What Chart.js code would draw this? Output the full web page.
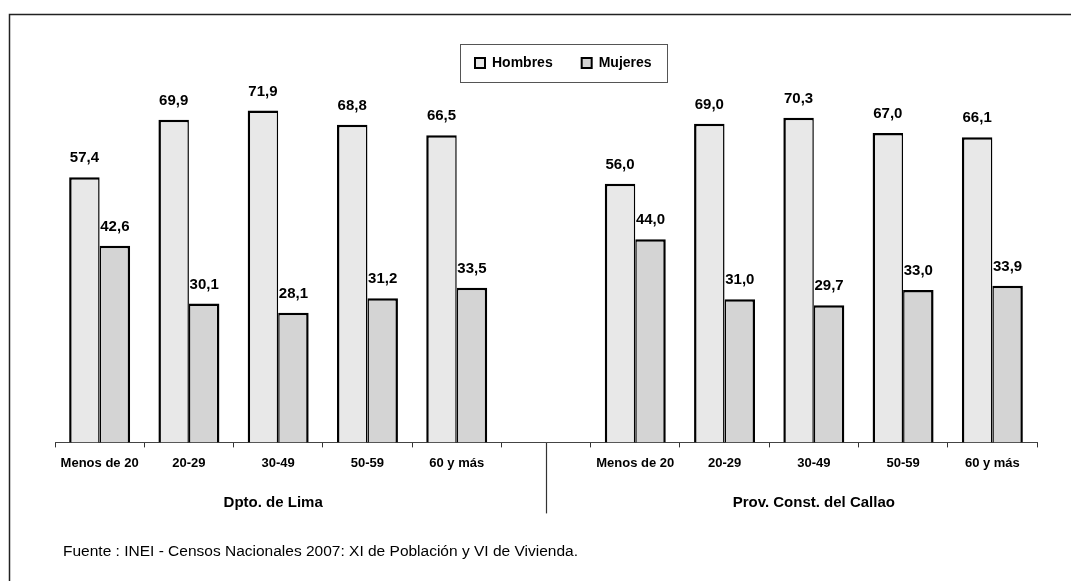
<!DOCTYPE html>
<html>
<head>
<meta charset="utf-8">
<script src="https://cdn.jsdelivr.net/npm/chart.js@4.4.1/dist/chart.umd.min.js"></script>
<style>
    html, body { margin: 0; padding: 0; background: #fff; }
    canvas { display: block; }
</style>
</head>
<body>
<canvas id="grafico" width="1071" height="581"></canvas>
<script>
// datos (el hueco central separa los dos ámbitos)
const categorias = ['Menos de 20', '20-29', '30-49', '50-59', '60 y más', '', 'Menos de 20', '20-29', '30-49', '50-59', '60 y más'];
const hombres = [57.4, 69.9, 71.9, 68.8, 66.5, null, 56.0, 69.0, 70.3, 67.0, 66.1];
const mujeres = [42.6, 30.1, 28.1, 31.2, 33.5, null, 44.0, 31.0, 29.7, 33.0, 33.9];
const ambitos = ['Dpto. de Lima', 'Prov. Const. del Callao'];
const fuente = 'Fuente : INEI - Censos Nacionales 2007: XI de Población y VI de Vivienda.';

const FUENTE_TXT = '"Liberation Sans", Arial, sans-serif';

const extras = {
    id: 'extras',
    afterDatasetsDraw(chart) {
        const ctx = chart.ctx;
        ctx.save();
        ctx.fillStyle = '#000';
        ctx.font = 'bold 15px ' + FUENTE_TXT;
        ctx.textAlign = 'center';
        ctx.textBaseline = 'middle';
        chart.data.datasets.forEach((ds, i) => {
            chart.getDatasetMeta(i).data.forEach((bar, j) => {
                const v = ds.data[j];
                if (v == null) return;
                ctx.fillText(v.toFixed(1).replace('.', ','), bar.x, bar.y - 19);
            });
        });
        ctx.restore();
    },
    afterDraw(chart) {
        const ctx = chart.ctx;
        const x = chart.scales.x;
        const base = chart.chartArea.bottom;
        ctx.save();

        // marco exterior
        ctx.strokeStyle = '#222';
        ctx.lineWidth = 1.5;
        ctx.strokeRect(9.5, 14.5, 1200, 800);

        // separador entre ámbitos
        const sep = Math.round(x.getPixelForValue(5)) + 0.5;
        ctx.strokeStyle = '#333';
        ctx.lineWidth = 1.2;
        ctx.beginPath();
        ctx.moveTo(sep, base);
        ctx.lineTo(sep, base + 71);
        ctx.stroke();

        // títulos de ámbito
        ctx.fillStyle = '#000';
        ctx.font = 'bold 15px ' + FUENTE_TXT;
        ctx.textAlign = 'center';
        ctx.textBaseline = 'middle';
        const c1 = (x.getPixelForValue(0) + x.getPixelForValue(4)) / 2;
        const c2 = (x.getPixelForValue(6) + x.getPixelForValue(10)) / 2;
        ctx.fillText(ambitos[0], c1 - 5, 503);
        ctx.fillText(ambitos[1], c2, 503);

        // fuente
        ctx.font = '15.5px ' + FUENTE_TXT;
        ctx.textAlign = 'left';
        ctx.fillText(fuente, 63, 552);

        // leyenda con recuadro
        ctx.strokeStyle = '#555';
        ctx.lineWidth = 1;
        ctx.strokeRect(460.5, 44.5, 207, 38);
        ctx.font = 'bold 14px ' + FUENTE_TXT;
        let lx = 475;
        chart.data.datasets.forEach(ds => {
            ctx.fillStyle = ds.backgroundColor;
            ctx.fillRect(lx, 58, 10, 10);
            ctx.strokeStyle = '#000';
            ctx.lineWidth = 2;
            ctx.strokeRect(lx, 58, 10, 10);
            ctx.fillStyle = '#000';
            ctx.fillText(ds.label, lx + 17, 63);
            lx += 17 + ctx.measureText(ds.label).width + 29;
        });
        ctx.restore();
    }
};

new Chart(document.getElementById('grafico'), {
    type: 'bar',
    data: {
        labels: categorias,
        datasets: [{
            label: 'Hombres',
            data: hombres,
            backgroundColor: '#e8e8e8',
            borderColor: '#000',
            borderWidth: { top: 2.5, left: 2.5, right: 1.5, bottom: 0 },
            borderSkipped: false
        }, {
            label: 'Mujeres',
            data: mujeres,
            backgroundColor: '#d4d4d4',
            borderColor: '#000',
            borderWidth: { top: 2.5, left: 1.5, right: 2.5, bottom: 0 },
            borderSkipped: false
        }]
    },
    options: {
        responsive: false,
        animation: false,
        layout: { padding: { left: 55, right: 34, top: 73, bottom: 102 } },
        datasets: { bar: { categoryPercentage: 0.683, barPercentage: 1 } },
        plugins: {
            legend: { display: false },
            tooltip: { enabled: false }
        },
        scales: {
            x: {
                grid: { offset: true, drawOnChartArea: false, drawTicks: true, tickLength: 5, color: '#333' },
                border: { display: true, color: '#444', width: 1 },
                ticks: {
                    color: '#000',
                    padding: 8,
                    maxRotation: 0,
                    autoSkip: false,
                    font: { family: FUENTE_TXT, size: 13, weight: 'bold' }
                }
            },
            y: {
                display: false,
                min: 0,
                max: 80
            }
        }
    },
    plugins: [extras]
});
</script>
</body>
</html>
